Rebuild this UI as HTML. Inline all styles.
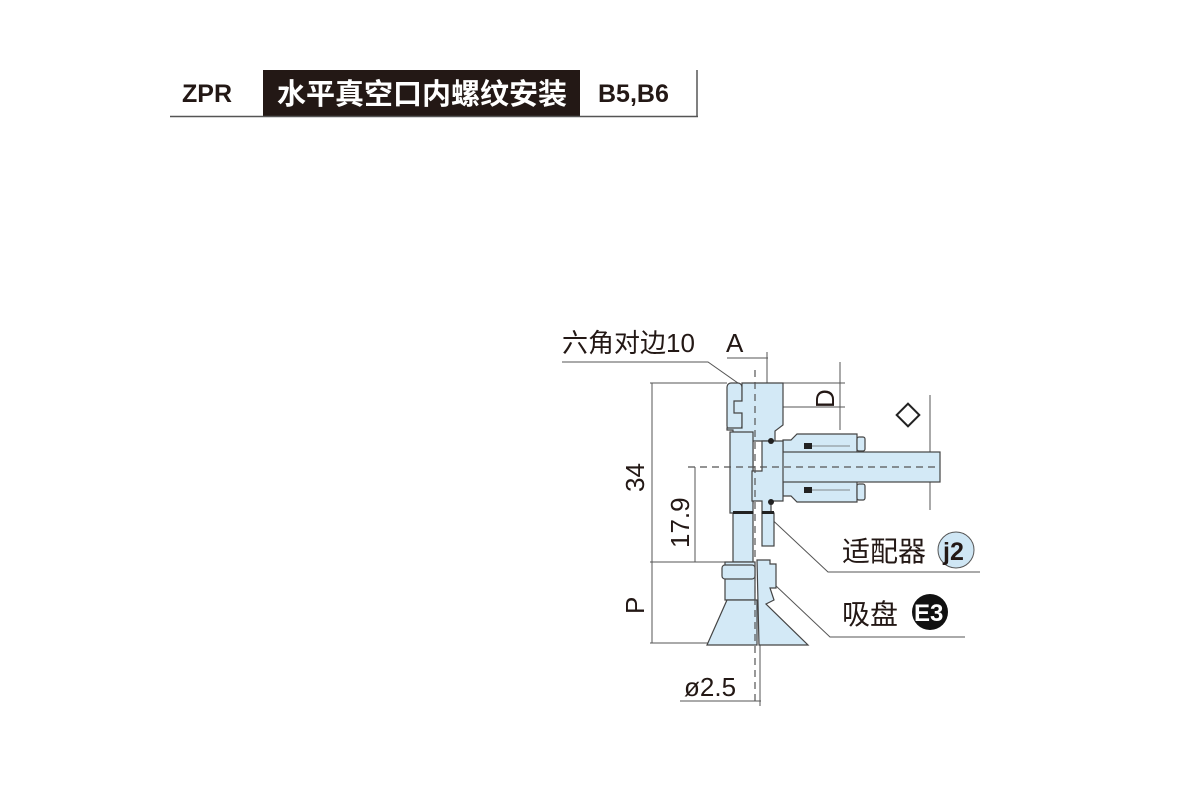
<!DOCTYPE html>
<html><head><meta charset="utf-8"><style>
html,body{margin:0;padding:0;background:#fff;}
svg{display:block;}
text{font-family:"Liberation Sans","Noto Sans CJK SC",sans-serif;fill:#231815;}
</style></head><body>
<svg width="1200" height="800" viewBox="0 0 1200 800" xmlns="http://www.w3.org/2000/svg">
<!-- header -->
<rect x="263" y="70" width="317" height="47" fill="#231815"/>
<line x1="170" y1="116.5" x2="698" y2="116.5" stroke="#555" stroke-width="1.5"/>
<line x1="697" y1="70" x2="697" y2="117" stroke="#555" stroke-width="1.5"/>
<text x="182" y="102" font-size="25" font-weight="bold">ZPR</text>
<text x="277" y="104" font-size="29" font-weight="bold" style="fill:#fff">水平真空口内螺纹安装</text>
<text x="598" y="102" font-size="25" font-weight="bold">B5,B6</text>

<g stroke="#555" stroke-width="1" fill="none">
<line x1="652" y1="383" x2="652" y2="643"/>
<line x1="650" y1="383" x2="727" y2="383"/>
<line x1="650" y1="562" x2="730" y2="562"/>
<line x1="650" y1="643" x2="710" y2="643"/>
<line x1="695" y1="467" x2="695" y2="562"/>
<line x1="840" y1="362" x2="840" y2="430"/>
<line x1="770" y1="383" x2="845" y2="383"/>
<line x1="770" y1="407" x2="845" y2="407"/>
<line x1="727" y1="358" x2="768" y2="358"/>
<line x1="767" y1="352" x2="767" y2="410"/>
<line x1="930" y1="395" x2="930" y2="510"/>
<line x1="900" y1="452" x2="940" y2="452"/>
<line x1="900" y1="482" x2="940" y2="482"/>
<line x1="680" y1="701" x2="761" y2="701"/>
<line x1="760" y1="640" x2="760" y2="706"/>
<polyline points="562,362 708,362 745,388"/>
<polyline points="765,513 828,572 980,572"/>
<polyline points="775,585 830,637 965,637"/>
</g>

<g fill="#d3e9f6" stroke="#444" stroke-width="1.2">
<path d="M783,440 h8 l6,-6 h60 v68 h-60 l-6,-6 h-8 z"/>
<rect x="857" y="437" width="8" height="14" rx="2"/>
<rect x="857" y="484" width="8" height="16" rx="2"/>
<rect x="780" y="452" width="160" height="30"/>
<rect x="727" y="383" width="15" height="47" rx="4"/>
<path d="M742,383 h41 v42 l-8,6 v10 h-22 v62 h-20 v-73 h-6 v-2 h15 v-15 h-8 v-12 h8 z"/>
<path d="M730,432 h23 v81 h-23 z"/>
<path d="M762,441 h21 v60 h-12 v12 h-9 v-12 h-10 v-30 h10 z"/>
<rect x="733" y="513" width="20" height="49"/>
<rect x="762" y="513" width="12" height="33"/>
<path d="M725,562 h30 v38 h-30 z"/>
<rect x="722" y="565" width="33" height="14" rx="3"/>
<path d="M727,600 h30 v45 h-50 z"/>
<path d="M757,560 h13 v4 h6 v24 h-6 l4,12 l-8,4 l42,41 h-49 z"/>
</g>
<g fill="#222">
<circle cx="771" cy="441" r="3"/><circle cx="771" cy="502" r="3"/>
<rect x="733" y="511" width="20" height="3"/><rect x="762" y="511" width="12" height="3"/>
<rect x="804" y="443" width="8" height="6"/><rect x="804" y="487" width="8" height="6"/>
</g>
<g stroke="#666" stroke-width="0.8" fill="none">
<line x1="812" y1="446" x2="850" y2="446"/><line x1="812" y1="490" x2="850" y2="490"/>
</g>
<g stroke="#555" stroke-width="1.2" stroke-dasharray="7,5" fill="none">
<line x1="755" y1="370" x2="755" y2="705"/>
<line x1="688" y1="467" x2="940" y2="467"/>
</g>
<rect x="900" y="407" width="16" height="16" fill="none" stroke="#222" stroke-width="2" transform="rotate(45 908 415)"/>

<text x="562" y="352" font-size="26">六角对边10</text>
<text x="726" y="352" font-size="26">A</text>
<text x="0" y="0" font-size="26" transform="translate(644,492) rotate(-90)">34</text>
<text x="0" y="0" font-size="26" transform="translate(689,548) rotate(-90)">17.9</text>
<text x="0" y="0" font-size="26" transform="translate(644,614) rotate(-90)">P</text>
<text x="0" y="0" font-size="26" transform="translate(834,408) rotate(-90)">D</text>
<text x="684" y="696" font-size="26">ø2.5</text>
<text x="842" y="561" font-size="28">适配器</text>
<circle cx="956" cy="550" r="18" fill="#cfe6f4" stroke="#555"/>
<text x="943" y="560" font-size="25" font-weight="bold">j2</text>
<text x="842" y="624" font-size="28">吸盘</text>
<circle cx="930" cy="612" r="18" fill="#111"/>
<text x="914" y="621" font-size="24" font-weight="bold" style="fill:#fff">E3</text>
</svg>
</body></html>
